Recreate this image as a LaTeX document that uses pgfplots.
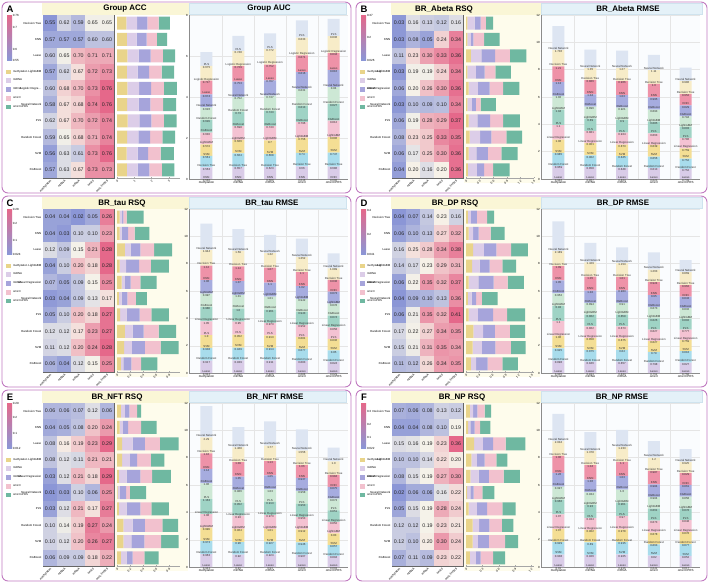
\documentclass[border=0pt]{standalone}
\usepackage{fontspec}
\setmainfont{Liberation Sans}
\usepackage{pgfplots}
\usepackage{pgfplotstable}
\pgfplotsset{compat=1.18}
\pgfplotsset{/pgf/number format/assume math mode=true}

% rectangular heatmap cell marker (one cell of the 5 x 10 grid)
\pgfdeclareplotmark{hmcell}{%
  \pgfpathrectangle{\pgfqpoint{-7.25pt}{-8.25pt}}{\pgfqpoint{14.5pt}{16.5pt}}%
  \pgfusepathqfill}

% ---------- colours ----------
\definecolor{pborder}{HTML}{C07AC0}
\definecolor{bandY}{HTML}{FAF6D6}
\definecolor{bandB}{HTML}{E4F1F8}
\definecolor{bandBd}{HTML}{CFE3EE}
\definecolor{hbBg}{HTML}{FEFCEC}
\definecolor{vBg}{HTML}{FAFCFE}
\definecolor{cLo}{RGB}{139,150,214}
\definecolor{cMid}{RGB}{246,243,233}
\definecolor{cHi}{RGB}{229,104,138}
% omics layers
\definecolor{oMeth}{HTML}{E9D48A}
\definecolor{oMi}{HTML}{DCCDE8}
\definecolor{oM}{HTML}{A6A4DB}
\definecolor{oO}{HTML}{F2C1CE}
\definecolor{oP}{HTML}{6FB8A1}
% stacked model palette (bottom to top)
\definecolor{s1}{HTML}{D9CCE8}
\definecolor{s2}{HTML}{A8DCEC}
\definecolor{s3}{HTML}{F4DE94}
\definecolor{s4}{HTML}{F4C2D2}
\definecolor{s5}{HTML}{9FD3C5}
\definecolor{s6}{HTML}{CDE8D5}
\definecolor{s7}{HTML}{A6ACDF}
\definecolor{s8}{HTML}{EE92A8}
\definecolor{s9}{HTML}{F7ECC8}
\definecolor{s10}{HTML}{DDE5F2}

% ---------- fonts ----------
\newcommand\fTitle{\fontsize{8}{9}\selectfont\bfseries}
\newcommand\fLetter{\fontsize{9.5}{11}\selectfont\bfseries}
\newcommand\fTick{\fontsize{3}{3.5}\selectfont}
\newcommand\fRow{\fontsize{2.9}{3.2}\selectfont}
\newcommand\fLeg{\fontsize{2.8}{3.2}\selectfont}
\newcommand\fHm{\fontsize{5.3}{6}\selectfont}
\newcommand\fSeg{\fontsize{2.9}{3.3}\selectfont}

% ---------- heatmap tables (rows: models, cols: methylation miRNA mRNA omic3 omic3+PRS) ----------
\pgfplotstableread{
c0 c1 c2 c3 c4
0.55 0.62 0.59 0.65 0.65
0.57 0.57 0.57 0.60 0.60
0.60 0.65 0.70 0.71 0.71
0.57 0.62 0.67 0.72 0.73
0.60 0.68 0.70 0.73 0.76
0.58 0.67 0.68 0.74 0.76
0.62 0.67 0.70 0.72 0.74
0.59 0.65 0.68 0.71 0.74
0.56 0.63 0.61 0.73 0.76
0.57 0.63 0.67 0.73 0.73
}\hA
\pgfplotstableread{
c0 c1 c2 c3 c4
0.03 0.16 0.13 0.12 0.16
0.03 0.08 0.05 0.24 0.34
0.11 0.23 0.30 0.33 0.36
0.03 0.19 0.19 0.24 0.34
0.06 0.20 0.26 0.30 0.36
0.03 0.10 0.09 0.10 0.34
0.06 0.19 0.28 0.29 0.37
0.08 0.23 0.25 0.33 0.35
0.06 0.17 0.25 0.30 0.36
0.04 0.20 0.16 0.20 0.36
}\hB
\pgfplotstableread{
c0 c1 c2 c3 c4
0.04 0.04 0.02 0.05 0.26
0.04 0.03 0.10 0.10 0.23
0.12 0.09 0.15 0.21 0.28
0.04 0.10 0.20 0.18 0.28
0.07 0.05 0.09 0.15 0.25
0.03 0.04 0.09 0.13 0.17
0.05 0.10 0.20 0.18 0.27
0.12 0.12 0.17 0.23 0.27
0.11 0.12 0.20 0.24 0.28
0.06 0.04 0.12 0.15 0.25
}\hC
\pgfplotstableread{
c0 c1 c2 c3 c4
0.04 0.07 0.14 0.23 0.16
0.06 0.10 0.13 0.27 0.32
0.16 0.25 0.28 0.34 0.38
0.14 0.17 0.23 0.29 0.31
0.06 0.22 0.35 0.32 0.37
0.04 0.09 0.10 0.13 0.36
0.06 0.21 0.35 0.32 0.41
0.17 0.22 0.27 0.34 0.35
0.15 0.21 0.31 0.35 0.34
0.11 0.12 0.26 0.34 0.35
}\hD
\pgfplotstableread{
c0 c1 c2 c3 c4
0.06 0.06 0.07 0.12 0.06
0.04 0.05 0.08 0.20 0.24
0.08 0.16 0.19 0.23 0.29
0.08 0.12 0.11 0.21 0.21
0.03 0.12 0.21 0.18 0.29
0.01 0.03 0.10 0.06 0.25
0.03 0.12 0.21 0.17 0.27
0.10 0.14 0.19 0.27 0.24
0.10 0.12 0.20 0.26 0.27
0.06 0.09 0.09 0.18 0.22
}\hE
\pgfplotstableread{
c0 c1 c2 c3 c4
0.07 0.06 0.08 0.13 0.12
0.04 0.04 0.08 0.10 0.19
0.15 0.16 0.19 0.23 0.36
0.10 0.10 0.14 0.22 0.20
0.08 0.15 0.19 0.27 0.30
0.02 0.06 0.06 0.16 0.22
0.05 0.15 0.19 0.28 0.24
0.12 0.12 0.19 0.23 0.21
0.12 0.10 0.20 0.30 0.24
0.07 0.11 0.09 0.23 0.22
}\hF

% ---------- stacked AUC / RMSE tables (m1 = bottom segment) ----------
\pgfplotstableread{
idx m1 m2 m3 m4 m5 m6 m7 m8 m9 m10 tot
0 0.566 0.563 0.561 0.574 0.603 0.629 0.626 0.674 0.717 0.675 6.188
1 0.589 0.657 0.664 0.666 0.698 0.73 0.752 0.753 0.729 0.748 6.986
2 0.589 0.623 0.668 0.7 0.743 0.743 0.747 0.767 0.752 0.772 7.104
3 0.616 0.66 0.74 0.756 0.796 0.813 0.831 0.816 0.871 0.833 7.732
4 0.606 0.686 0.747 0.806 0.812 0.827 0.84 0.816 0.834 0.836 7.81
}\vA
\pgfplotstableread{
idx m1 m2 m3 m4 m5 m6 m7 m8 m9 m10 tot
0 0.946 0.959 0.985 1.06 1.1 1.04 1.02 1.13 1.21 1.736 11.186
1 0.867 0.858 0.902 0.901 0.881 0.89 0.896 1.04 0.886 1.35 9.471
2 0.824 0.848 0.845 0.873 0.924 0.9 0.921 1.03 0.966 1.27 9.401
3 0.823 0.813 0.856 0.839 0.863 0.885 0.893 0.995 1.0 1.11 9.077
4 0.739 0.752 0.752 0.759 0.786 0.803 0.794 0.829 0.952 0.986 8.152000000000001
}\vB
\pgfplotstableread{
idx m1 m2 m3 m4 m5 m6 m7 m8 m9 m10 tot
0 0.914 0.917 0.938 1.0 1.05 0.988 0.997 1.06 1.12 1.944 10.928
1 0.926 0.939 0.949 0.952 0.95 1.0 1.01 1.07 1.14 1.59 10.526
2 0.926 0.911 0.914 0.913 0.973 0.961 1.01 1.1 1.07 1.32 10.098
3 0.888 0.883 0.877 0.881 0.952 0.943 0.942 1.02 1.1 1.352 9.838
4 0.829 0.824 0.85 0.836 0.858 0.874 0.878 0.873 0.838 1.089 8.749
}\vC
\pgfplotstableread{
idx m1 m2 m3 m4 m5 m6 m7 m8 m9 m10 tot
0 0.905 0.898 0.925 1.06 1.1 0.93 0.952 1.05 1.09 2.189 11.099
1 0.833 0.846 0.875 0.858 0.862 0.862 0.894 1.02 1.05 1.429 9.529
2 0.833 0.857 0.84 0.875 0.873 0.859 0.91 0.983 1.01 1.153 9.193
3 0.752 0.798 0.79 0.827 0.827 0.826 0.873 0.95 0.924 1.263 8.83
4 0.768 0.827 0.818 0.759 0.777 0.802 0.832 0.843 0.962 0.869 8.257
}\vD
\pgfplotstableread{
idx m1 m2 m3 m4 m5 m6 m7 m8 m9 m10 tot
0 0.943 0.963 0.973 0.999 1.08 1.163 1.06 1.14 1.16 2.29 11.771
1 0.91 0.92 0.96 0.964 0.93 0.952 0.986 1.05 1.09 1.468 10.23
2 0.93 0.923 0.927 1.01 0.973 0.913 1.03 1.05 1.13 1.77 10.656
3 0.893 0.907 0.946 0.912 0.953 0.953 0.958 0.937 1.06 1.556 10.075
4 0.803 0.804 0.857 0.83 0.852 0.851 0.873 0.875 0.984 1.0 8.729
}\vE
\pgfplotstableread{
idx m1 m2 m3 m4 m5 m6 m7 m8 m9 m10 tot
0 0.91 0.938 0.929 1.07 1.07 0.966 0.997 1.26 1.06 2.004 11.204
1 0.875 0.926 0.89 0.902 0.934 0.93 0.934 1.06 1.04 1.378 9.869
2 0.916 0.925 0.915 0.978 0.97 0.961 1.0 1.03 1.1 1.233 10.028
3 0.842 0.82 0.863 0.878 0.873 0.861 0.904 0.984 0.987 1.2 9.212
4 0.817 0.852 0.877 0.878 0.848 0.878 0.858 0.861 0.829 0.925 8.623
}\vF

% ---------- styles ----------
\pgfplotsset{
  hm/.style={anchor=north west, scale only axis, width=71bp, height=163bp,
    xmin=-0.5, xmax=4.5, ymin=-0.5, ymax=9.5, y dir=reverse,
    xtick={0,...,4}, xticklabels={methylation,miRNA,mRNA,omic3,omic3+PRS},
    ytick={0,...,9},
    xticklabel style={rotate=45, anchor=north east, font=\fTick, inner sep=1pt},
    yticklabel style={font=\fRow, inner sep=1.5pt},
    major tick length=0pt, minor tick length=0pt,
    minor xtick={-0.5,0.5,1.5,2.5,3.5,4.5}, minor ytick={-0.5,0.5,1.5,2.5,3.5,4.5,5.5,6.5,7.5,8.5,9.5},
    xminorgrids, yminorgrids, minor grid style={black!60, line width=0.55pt},
    axis line style={black!60, line width=0.7pt},
    axis on top, clip=false,
    colormap={hmc}{rgb255(0cm)=(139,150,214) rgb255(1cm)=(246,243,233) rgb255(2cm)=(229,104,138)}},
  hmcol/.style={scatter, only marks, mark=hmcell, point meta=\thisrow{#1},
    scatter/use mapped color={draw=mapped color, fill=mapped color}},
  hmtxt/.style={draw=none, mark=none, point meta=\thisrow{#1},
    nodes near coords={\pgfmathprintnumber[fixed,fixed zerofill,precision=2]{\pgfplotspointmeta}},
    every node near coord/.append style={anchor=center, font=\fHm, text=black!85, inner sep=0pt}},
  hb/.style={anchor=north west, scale only axis, height=163bp,
    xbar stacked, bar width=13bp, y dir=reverse, ymin=-0.5, ymax=9.5, ytick=\empty, xmin=0,
    axis x line*=bottom, axis y line=none, axis line style={black!35, line width=0.3pt},
    xticklabel style={rotate=45, anchor=north east, font=\fTick, inner sep=1pt},
    major tick length=1pt, tick style={black!35},
    legend style={draw=none, fill=none, anchor=north west, font=\fLeg, inner sep=0pt,
      row sep=1.3pt, /tikz/every even column/.append style={column sep=1.2pt}},
    legend cell align=left},
  omlegend/.style={legend image code/.code={\fill[##1] (0pt,-2.3pt) rectangle (5pt,2.3pt);}},
  vc/.style={anchor=north west, x=31.8bp, xmin=-0.55, xmax=4.45, ymin=0,
    ybar stacked, bar width=12bp,
    xtick={0,...,4}, xticklabels={methylation,miRNA,mRNA,omic3,omic3+PRS},
    minor xtick={0.5,1.5,2.5,3.5}, xminorgrids, ymajorgrids,
    major grid style={black!10, line width=0.35pt}, minor grid style={black!10, line width=0.35pt},
    axis x line*=bottom, axis y line*=left, axis line style={black!45, line width=0.35pt},
    tick label style={font=\fTick}, xticklabel style={inner sep=1pt, yshift=-0.8pt},
    yticklabel style={inner sep=1pt},
    major tick length=1.2pt, minor tick length=0pt, tick style={black!45}, xtick style={draw=none},
    axis background/.style={fill=vBg}},
}

% one stacked segment: column, fill, model name, table
\newcommand\seg[4]{\addplot[fill=#2, draw=none,
  point meta=explicit symbolic,
  nodes near coords={#3\\\pgfplotspointmeta},
  every node near coord/.append style={anchor=center, align=center, font=\fSeg,
    text=black!80, inner sep=0pt, yshift={-0.5*\pgfplotspointmeta*\yu}}]
  table[x=idx, y=#1, meta=#1]{#4};}
% stack totals above the bars
\newcommand\total[1]{\addplot[draw=none, fill=none,
  point meta=explicit symbolic,
  nodes near coords={\pgfplotspointmeta},
  every node near coord/.append style={anchor=south, font=\fSeg, text=black!80,
    inner sep=0pt, yshift=1.2pt}]
  table[x=idx, y expr=0, meta=tot]{#1};}
% five heatmap columns: coloured cells, then their values
\newcommand\hmcols[1]{%
  \addplot[hmcol=c0] table[x expr=0, y expr=\coordindex]{#1};
  \addplot[hmcol=c1] table[x expr=1, y expr=\coordindex]{#1};
  \addplot[hmcol=c2] table[x expr=2, y expr=\coordindex]{#1};
  \addplot[hmcol=c3] table[x expr=3, y expr=\coordindex]{#1};
  \addplot[hmcol=c4] table[x expr=4, y expr=\coordindex]{#1};
  \addplot[hmtxt=c0] table[x expr=0, y expr=\coordindex]{#1};
  \addplot[hmtxt=c1] table[x expr=1, y expr=\coordindex]{#1};
  \addplot[hmtxt=c2] table[x expr=2, y expr=\coordindex]{#1};
  \addplot[hmtxt=c3] table[x expr=3, y expr=\coordindex]{#1};
  \addplot[hmtxt=c4] table[x expr=4, y expr=\coordindex]{#1};}
% five horizontal stacks with legend
\newcommand\hbars[1]{%
  \addplot[fill=oMeth, draw=none, omlegend] table[x=c0, y expr=\coordindex]{#1};
  \addplot[fill=oMi, draw=none, omlegend] table[x=c1, y expr=\coordindex]{#1};
  \addplot[fill=oM, draw=none, omlegend] table[x=c2, y expr=\coordindex]{#1};
  \addplot[fill=oO, draw=none, omlegend] table[x=c3, y expr=\coordindex]{#1};
  \addplot[fill=oP, draw=none, omlegend] table[x=c4, y expr=\coordindex]{#1};
  \legend{methylation,miRNA,mRNA,omic3,omic3+PRS}}
% colour scale strip with its labels (value/position pairs)
\newcommand\cbar[1]{%
  \shade[bottom color=cLo, middle color=cMid, top color=cHi] (5bp,-58bp) rectangle (10bp,-13bp);
  \foreach \v/\p in {#1} {\node[font=\fTick, anchor=west, inner sep=0.8pt] at (10bp,\p bp) {\v};}}

% frame, title bands, titles and panel letter
\newcommand\panelframe[8]{%
  \fill[bandY] (#3bp,-1bp) rectangle (#4bp,-12.5bp);
  \fill[bandB] (#4bp,-1bp) rectangle ({(#1-5)*1bp},-12.5bp);
  \draw[bandBd, line width=0.3pt] (#4bp,-1bp) rectangle ({(#1-5)*1bp},-12.5bp);
  \node[font=\fTitle] at (#5bp,-7bp) {#6};
  \node[font=\fTitle] at (#7bp,-7bp) {#8};
  \node[font=\fLetter] at (8bp,-7.5bp) {#2};
  \draw[pborder, line width=0.9pt, rounded corners=6bp] (0bp,0bp) rectangle (#1bp,-191bp);}

\begin{document}
\begin{tikzpicture}
\path[use as bounding box] (0,0) rectangle (709bp,-584bp);

% ================= A =================
\begin{scope}[shift={(2bp,-2bp)}]
\panelframe{349}{A}{40}{187}{123}{Group ACC}{267}{Group AUC}
\cbar{0.55/-58,0.6/-47.3,0.7/-25.9,0.76/-13}
\begin{axis}[hm, at={(41bp,-13bp)}, point meta min=0.55, point meta max=0.76,
  yticklabels={Decision Tree,KNN,Lasso,LightGBM,{Logistic Regre\ldots},Neural Network,PLS,Random Forest,SVM,XGBoost}]
\hmcols{\hA}
\end{axis}
\begin{axis}[hb, at={(115bp,-13bp)}, width=63bp, xmax=3.65, xtick={0,1,2,3},
  legend style={at={(-1.762,0.675)}}]
\hbars{\hA}
\end{axis}
\def\yu{20.5bp}
\begin{axis}[vc, at={(187bp,-13bp)}, y=20.5bp, ymax=8, ytick={0,2,4,6,8}]
\seg{m1}{s1}{KNN}{\vA}
\seg{m2}{s2}{Decision Tree}{\vA}
\seg{m3}{s3}{SVM}{\vA}
\seg{m4}{s4}{LightGBM}{\vA}
\seg{m5}{s5}{XGBoost}{\vA}
\seg{m6}{s6}{Random Forest}{\vA}
\seg{m7}{s7}{Neural Network}{\vA}
\seg{m8}{s8}{Lasso}{\vA}
\seg{m9}{s9}{Logistic Regression}{\vA}
\seg{m10}{s10}{PLS}{\vA}
\total{\vA}
\end{axis}
\end{scope}

% ================= B =================
\begin{scope}[shift={(356bp,-2bp)}]
\fill[hbBg] (107.5bp,-12.5bp) rectangle (184bp,-181bp);
\panelframe{351}{B}{35}{185}{88}{BR\_Abeta RSQ}{272}{BR\_Abeta RMSE}
\cbar{0.026/-58,0.2/-35.2,0.37/-13}
\begin{axis}[hm, at={(36bp,-13bp)}, point meta min=0.026, point meta max=0.37,
  yticklabels={Decision Tree,KNN,Lasso,LightGBM,Linear Regression,Neural Network,PLS,Random Forest,SVM,XGBoost}]
\hmcols{\hB}
\end{axis}
\begin{axis}[hb, at={(110bp,-13bp)}, width=68bp, xmax=1.5, xtick={0,0.3,0.6,0.9,1.2,1.5},
  legend style={at={(-1.559,0.675)}}]
\hbars{\hB}
\end{axis}
\def\yu{13.667bp}
\begin{axis}[vc, at={(185bp,-13bp)}, y=13.667bp, ymax=12, ytick={0,2,...,12}]
\seg{m1}{s1}{Lasso}{\vB}
\seg{m2}{s2}{Random Forest}{\vB}
\seg{m3}{s3}{SVM}{\vB}
\seg{m4}{s4}{Linear Regression}{\vB}
\seg{m5}{s5}{PLS}{\vB}
\seg{m6}{s6}{LightGBM}{\vB}
\seg{m7}{s7}{XGBoost}{\vB}
\seg{m8}{s8}{KNN}{\vB}
\seg{m9}{s9}{Decision Tree}{\vB}
\seg{m10}{s10}{Neural Network}{\vB}
\total{\vB}
\end{axis}
\end{scope}

% ================= C =================
\begin{scope}[shift={(2bp,-196bp)}]
\fill[hbBg] (112.5bp,-12.5bp) rectangle (186bp,-181bp);
\panelframe{349}{C}{40}{187}{120}{BR\_tau RSQ}{270}{BR\_tau RMSE}
\cbar{0.024/-58,0.1/-44.6,0.2/-27.1,0.28/-13}
\begin{axis}[hm, at={(41bp,-13bp)}, point meta min=0.024, point meta max=0.28,
  yticklabels={Decision Tree,KNN,Lasso,LightGBM,Linear Regression,Neural Network,PLS,Random Forest,SVM,XGBoost}]
\hmcols{\hC}
\end{axis}
\begin{axis}[hb, at={(115bp,-13bp)}, width=63bp, xmax=0.97, xtick={0,0.2,0.4,0.6,0.8},
  legend style={at={(-1.762,0.675)}}]
\hbars{\hC}
\end{axis}
\def\yu{13.667bp}
\begin{axis}[vc, at={(187bp,-13bp)}, y=13.667bp, ymax=12, ytick={0,2,...,12}]
\seg{m1}{s1}{Lasso}{\vC}
\seg{m2}{s2}{Random Forest}{\vC}
\seg{m3}{s3}{SVM}{\vC}
\seg{m4}{s4}{PLS}{\vC}
\seg{m5}{s5}{Linear Regression}{\vC}
\seg{m6}{s6}{XGBoost}{\vC}
\seg{m7}{s7}{LightGBM}{\vC}
\seg{m8}{s8}{KNN}{\vC}
\seg{m9}{s9}{Decision Tree}{\vC}
\seg{m10}{s10}{Neural Network}{\vC}
\total{\vC}
\end{axis}
\end{scope}

% ================= D =================
\begin{scope}[shift={(356bp,-196bp)}]
\fill[hbBg] (107.5bp,-12.5bp) rectangle (184bp,-181bp);
\panelframe{351}{D}{35}{185}{99}{BR\_DP RSQ}{267}{BR\_DP RMSE}
\cbar{0.041/-58,0.2/-38.6,0.4/-14.2}
\begin{axis}[hm, at={(36bp,-13bp)}, point meta min=0.041, point meta max=0.41,
  yticklabels={Decision Tree,KNN,Lasso,LightGBM,Linear Regression,Neural Network,PLS,Random Forest,SVM,XGBoost}]
\hmcols{\hD}
\end{axis}
\begin{axis}[hb, at={(110bp,-13bp)}, width=68bp, xmax=1.55, xtick={0,0.3,0.6,0.9,1.2,1.5},
  legend style={at={(-1.559,0.675)}}]
\hbars{\hD}
\end{axis}
\def\yu{13.667bp}
\begin{axis}[vc, at={(185bp,-13bp)}, y=13.667bp, ymax=12, ytick={0,2,...,12}]
\seg{m1}{s1}{Lasso}{\vD}
\seg{m2}{s2}{Random Forest}{\vD}
\seg{m3}{s3}{SVM}{\vD}
\seg{m4}{s4}{Linear Regression}{\vD}
\seg{m5}{s5}{PLS}{\vD}
\seg{m6}{s6}{LightGBM}{\vD}
\seg{m7}{s7}{XGBoost}{\vD}
\seg{m8}{s8}{KNN}{\vD}
\seg{m9}{s9}{Decision Tree}{\vD}
\seg{m10}{s10}{Neural Network}{\vD}
\total{\vD}
\end{axis}
\end{scope}

% ================= E =================
\begin{scope}[shift={(2bp,-390bp)}]
\fill[hbBg] (112.5bp,-12.5bp) rectangle (186bp,-181bp);
\panelframe{349}{E}{40}{187}{115}{BR\_NFT RSQ}{273}{BR\_NFT RMSE}
\cbar{0.012/-58,0.1/-43.8,0.2/-27.6,0.29/-13}
\begin{axis}[hm, at={(41bp,-13bp)}, point meta min=0.012, point meta max=0.29,
  yticklabels={Decision Tree,KNN,Lasso,LightGBM,Linear Regression,Neural Network,PLS,Random Forest,SVM,XGBoost}]
\hmcols{\hE}
\end{axis}
\begin{axis}[hb, at={(115bp,-13bp)}, width=63bp, xmax=0.97, xtick={0,0.2,0.4,0.6,0.8},
  legend style={at={(-1.762,0.675)}}]
\hbars{\hE}
\end{axis}
\def\yu{13.667bp}
\begin{axis}[vc, at={(187bp,-13bp)}, y=13.667bp, ymax=12, ytick={0,2,...,12}]
\seg{m1}{s1}{Lasso}{\vE}
\seg{m2}{s2}{Random Forest}{\vE}
\seg{m3}{s3}{SVM}{\vE}
\seg{m4}{s4}{LightGBM}{\vE}
\seg{m5}{s5}{Linear Regression}{\vE}
\seg{m6}{s6}{PLS}{\vE}
\seg{m7}{s7}{XGBoost}{\vE}
\seg{m8}{s8}{KNN}{\vE}
\seg{m9}{s9}{Decision Tree}{\vE}
\seg{m10}{s10}{Neural Network}{\vE}
\total{\vE}
\end{axis}
\end{scope}

% ================= F =================
\begin{scope}[shift={(356bp,-390bp)}]
\fill[hbBg] (107.5bp,-12.5bp) rectangle (184bp,-181bp);
\panelframe{351}{F}{35}{185}{106}{BR\_NP RSQ}{266}{BR\_NP RMSE}
\cbar{0.022/-58,0.1/-47.6,0.2/-34.3,0.3/-21}
\begin{axis}[hm, at={(36bp,-13bp)}, point meta min=0.022, point meta max=0.36,
  yticklabels={Decision Tree,KNN,Lasso,LightGBM,Linear Regression,Neural Network,PLS,Random Forest,SVM,XGBoost}]
\hmcols{\hF}
\end{axis}
\begin{axis}[hb, at={(110bp,-13bp)}, width=68bp, xmax=1.25, xtick={0,0.3,0.6,0.9,1.2},
  legend style={at={(-1.559,0.675)}}]
\hbars{\hF}
\end{axis}
\def\yu{13.667bp}
\begin{axis}[vc, at={(185bp,-13bp)}, y=13.667bp, ymax=12, ytick={0,2,...,12}]
\seg{m1}{s1}{Lasso}{\vF}
\seg{m2}{s2}{SVM}{\vF}
\seg{m3}{s3}{Random Forest}{\vF}
\seg{m4}{s4}{Linear Regression}{\vF}
\seg{m5}{s5}{PLS}{\vF}
\seg{m6}{s6}{LightGBM}{\vF}
\seg{m7}{s7}{XGBoost}{\vF}
\seg{m8}{s8}{KNN}{\vF}
\seg{m9}{s9}{Decision Tree}{\vF}
\seg{m10}{s10}{Neural Network}{\vF}
\total{\vF}
\end{axis}
\end{scope}

\end{tikzpicture}
\end{document}
